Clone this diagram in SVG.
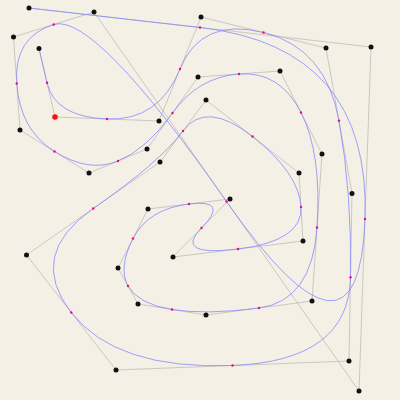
<svg xmlns="http://www.w3.org/2000/svg" width="400" height="400" viewBox="0 0 400 400">
<style>
.bg{fill:#f4f0e6}
.poly{fill:none;stroke:#bdbbb4;stroke-width:0.9;stroke-opacity:0.85}
.curve{fill:none;stroke:#8888ff;stroke-width:0.8}
.pt{fill:#111}
.mid{fill:#e0107f}
.sel{fill:#ff1010}
</style>
<rect class="bg" x="0" y="0" width="400" height="400"/>
<g id="connectors">
<polyline class="poly" points="39,48.5 55,117 159,121 201,17 326,48 352,193.5 349,361 116,370 26.5,255 160,162 206,100 299,173 303,241 173,257 230,199 148,209 118,268 138,304 206,315 312,301 322,154 280,71 198,77 147,149 89,173 20,130 13.5,37 94,12 359,391 371,47 29,8"/>
<path class="curve" d="M39 48.5 L47 82.75 Q55 117 107 119 Q159 121 180 69 Q201 17 263.5 32.5 Q326 48 339 120.75 Q352 193.5 350.5 277.25 Q349 361 232.5 365.5 Q116 370 71.25 312.5 Q26.5 255 93.25 208.5 Q160 162 183 131 Q206 100 252.5 136.5 Q299 173 301 207 Q303 241 238 249 Q173 257 201.5 228 Q230 199 189 204 Q148 209 133 238.5 Q118 268 128 286 Q138 304 172 309.5 Q206 315 259 308 Q312 301 317 227.5 Q322 154 301 112.5 Q280 71 239 74 Q198 77 172.5 113 Q147 149 118 161 Q89 173 54.5 151.5 Q20 130 16.75 83.5 Q13.5 37 53.75 24.5 Q94 12 226.5 201.5 Q359 391 365 219 Q371 47 200 27.5 L29 8"/>
</g>
<g id="midpoints">
<circle class="mid" cx="47" cy="82.75" r="1.2"/>
<circle class="mid" cx="107" cy="119" r="1.2"/>
<circle class="mid" cx="180" cy="69" r="1.2"/>
<circle class="mid" cx="263.5" cy="32.5" r="1.2"/>
<circle class="mid" cx="339" cy="120.75" r="1.2"/>
<circle class="mid" cx="350.5" cy="277.25" r="1.2"/>
<circle class="mid" cx="232.5" cy="365.5" r="1.2"/>
<circle class="mid" cx="71.25" cy="312.5" r="1.2"/>
<circle class="mid" cx="93.25" cy="208.5" r="1.2"/>
<circle class="mid" cx="183" cy="131" r="1.2"/>
<circle class="mid" cx="252.5" cy="136.5" r="1.2"/>
<circle class="mid" cx="301" cy="207" r="1.2"/>
<circle class="mid" cx="238" cy="249" r="1.2"/>
<circle class="mid" cx="201.5" cy="228" r="1.2"/>
<circle class="mid" cx="189" cy="204" r="1.2"/>
<circle class="mid" cx="133" cy="238.5" r="1.2"/>
<circle class="mid" cx="128" cy="286" r="1.2"/>
<circle class="mid" cx="172" cy="309.5" r="1.2"/>
<circle class="mid" cx="259" cy="308" r="1.2"/>
<circle class="mid" cx="317" cy="227.5" r="1.2"/>
<circle class="mid" cx="301" cy="112.5" r="1.2"/>
<circle class="mid" cx="239" cy="74" r="1.2"/>
<circle class="mid" cx="172.5" cy="113" r="1.2"/>
<circle class="mid" cx="118" cy="161" r="1.2"/>
<circle class="mid" cx="54.5" cy="151.5" r="1.2"/>
<circle class="mid" cx="16.75" cy="83.5" r="1.2"/>
<circle class="mid" cx="53.75" cy="24.5" r="1.2"/>
<circle class="mid" cx="226.5" cy="201.5" r="1.2"/>
<circle class="mid" cx="365" cy="219" r="1.2"/>
<circle class="mid" cx="200" cy="27.5" r="1.2"/>
</g>
<g id="p0"><circle class="pt" cx="39" cy="48.5" r="2.5"/></g>
<g id="p1"><circle class="sel" cx="55" cy="117" r="2.8"/></g>
<g id="p2"><circle class="pt" cx="159" cy="121" r="2.5"/></g>
<g id="p3"><circle class="pt" cx="201" cy="17" r="2.5"/></g>
<g id="p4"><circle class="pt" cx="326" cy="48" r="2.5"/></g>
<g id="p5"><circle class="pt" cx="352" cy="193.5" r="2.5"/></g>
<g id="p6"><circle class="pt" cx="349" cy="361" r="2.5"/></g>
<g id="p7"><circle class="pt" cx="116" cy="370" r="2.5"/></g>
<g id="p8"><circle class="pt" cx="26.5" cy="255" r="2.5"/></g>
<g id="p9"><circle class="pt" cx="160" cy="162" r="2.5"/></g>
<g id="p10"><circle class="pt" cx="206" cy="100" r="2.5"/></g>
<g id="p11"><circle class="pt" cx="299" cy="173" r="2.5"/></g>
<g id="p12"><circle class="pt" cx="303" cy="241" r="2.5"/></g>
<g id="p13"><circle class="pt" cx="173" cy="257" r="2.5"/></g>
<g id="p14"><circle class="pt" cx="230" cy="199" r="2.5"/></g>
<g id="p15"><circle class="pt" cx="148" cy="209" r="2.5"/></g>
<g id="p16"><circle class="pt" cx="118" cy="268" r="2.5"/></g>
<g id="p17"><circle class="pt" cx="138" cy="304" r="2.5"/></g>
<g id="p18"><circle class="pt" cx="206" cy="315" r="2.5"/></g>
<g id="p19"><circle class="pt" cx="312" cy="301" r="2.5"/></g>
<g id="p20"><circle class="pt" cx="322" cy="154" r="2.5"/></g>
<g id="p21"><circle class="pt" cx="280" cy="71" r="2.5"/></g>
<g id="p22"><circle class="pt" cx="198" cy="77" r="2.5"/></g>
<g id="p23"><circle class="pt" cx="147" cy="149" r="2.5"/></g>
<g id="p24"><circle class="pt" cx="89" cy="173" r="2.5"/></g>
<g id="p25"><circle class="pt" cx="20" cy="130" r="2.5"/></g>
<g id="p26"><circle class="pt" cx="13.5" cy="37" r="2.5"/></g>
<g id="p27"><circle class="pt" cx="94" cy="12" r="2.5"/></g>
<g id="p28"><circle class="pt" cx="359" cy="391" r="2.5"/></g>
<g id="p29"><circle class="pt" cx="371" cy="47" r="2.5"/></g>
<g id="p30"><circle class="pt" cx="29" cy="8" r="2.5"/></g>
</svg>
